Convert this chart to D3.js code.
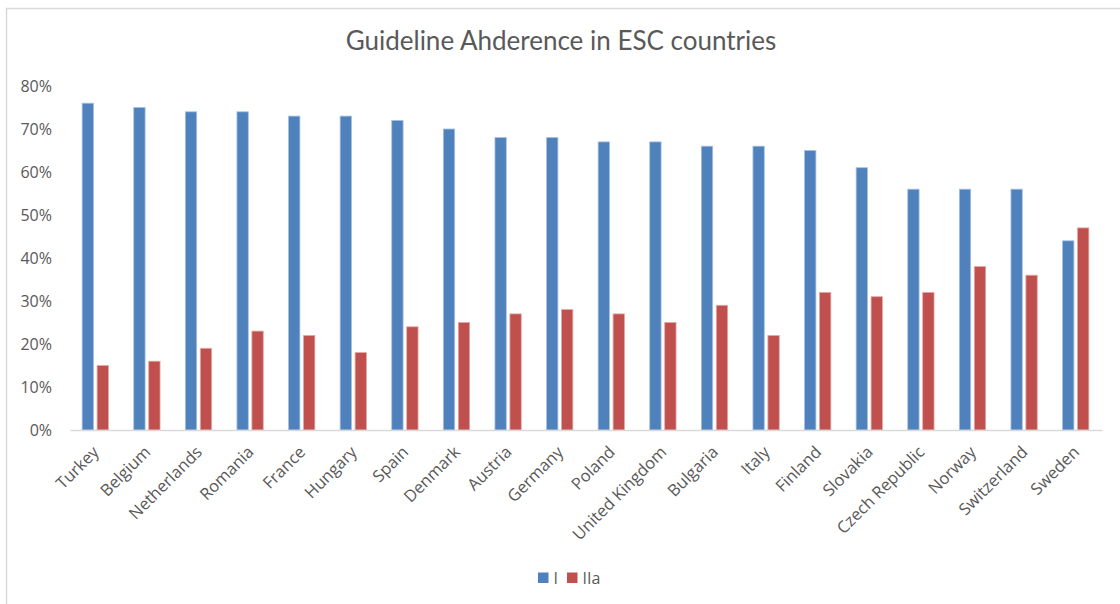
<!DOCTYPE html>
<html>
<head>
<meta charset="utf-8">
<script src="https://cdn.jsdelivr.net/npm/d3@7"></script>
<style>
  html, body { margin: 0; padding: 0; background: #fff; }
  svg { display: block; font-family: "Open Sans", sans-serif; }
</style>
</head>
<body>
<svg id="chart" width="1120" height="604"></svg>
<script>
// Share of patients treated per guideline class, by ESC member country
const countries = ["Turkey", "Belgium", "Netherlands", "Romania", "France", "Hungary", "Spain",
  "Denmark", "Austria", "Germany", "Poland", "United Kingdom", "Bulgaria", "Italy", "Finland",
  "Slovakia", "Czech Republic", "Norway", "Switzerland", "Sweden"];
const classI   = [0.76, 0.75, 0.74, 0.74, 0.73, 0.73, 0.72, 0.70, 0.68, 0.68, 0.67, 0.67, 0.66, 0.66, 0.65, 0.61, 0.56, 0.56, 0.56, 0.44];
const classIIa = [0.15, 0.16, 0.19, 0.23, 0.22, 0.18, 0.24, 0.25, 0.27, 0.28, 0.27, 0.25, 0.29, 0.22, 0.32, 0.31, 0.32, 0.38, 0.36, 0.47];
const seriesNames = ["I", "IIa"];
const seriesColors = ["#4f81bd", "#c0504d"];
const yTicks = [0, 0.1, 0.2, 0.3, 0.4, 0.5, 0.6, 0.7, 0.8];
const title = "Guideline Ahderence in ESC countries";

const svg = d3.select("#chart");
const textColor = "#595959";
const labelFont = "'Open Sans', sans-serif";

// outer chart frame
svg.append("rect")
  .attr("x", 6.5).attr("y", 8.5)
  .attr("width", 1130).attr("height", 620)
  .attr("fill", "#fff").attr("stroke", "#d9d9d9").attr("stroke-width", 1.5);

const plot = { left: 70, right: 1102, top: 86, bottom: 430 };

const x = d3.scaleBand().domain(countries).range([plot.left, plot.right]);
const y = d3.scaleLinear().domain([0, 0.8]).range([plot.bottom, plot.top]);

const barW = x.bandwidth() * 0.22;
const barGap = x.bandwidth() * 0.07;

// title
svg.append("text")
  .attr("x", 561).attr("y", 50)
  .attr("text-anchor", "middle")
  .attr("font-family", "Lato, sans-serif")
  .attr("font-size", 26)
  .attr("fill", textColor)
  .text(title);

// y axis labels
const yAxis = d3.axisLeft(y).tickValues(yTicks).tickFormat(d3.format(".0%")).tickSize(0).tickPadding(0);
const yG = svg.append("g").attr("transform", `translate(52,0)`).call(yAxis);
yG.select(".domain").remove();
yG.selectAll("text").attr("font-size", 16).attr("fill", textColor)
  .attr("font-family", labelFont);

// bars
const series = [classI, classIIa];
series.forEach((vals, si) => {
  svg.append("g").selectAll("rect")
    .data(countries)
    .join("rect")
    .attr("x", (c) => {
      const mid = x(c) + x.bandwidth() / 2 - 0.5;
      return si === 0 ? mid - barGap / 2 - barW : mid + barGap / 2;
    })
    .attr("y", (c, i) => y(vals[i]))
    .attr("width", barW)
    .attr("height", (c, i) => y(0) - y(vals[i]))
    .attr("fill", seriesColors[si])
    .attr("stroke", si === 0 ? "#a7c0df" : "#e2a9a7")
    .attr("stroke-width", 0.8);
});

// category axis
const xAxis = d3.axisBottom(x).tickSize(0).tickPadding(0);
const xG = svg.append("g").attr("transform", `translate(0,${plot.bottom})`).call(xAxis);
xG.select(".domain").attr("stroke", "#d9d9d9").attr("stroke-width", 1.5);
xG.selectAll("text")
  .attr("font-size", 16.5)
  .attr("fill", textColor)
  .attr("font-family", labelFont)
  .attr("text-anchor", "end")
  .attr("dy", null)
  .attr("y", 0)
  .attr("x", 0)
  .attr("dominant-baseline", "middle")
  .attr("transform", `translate(${x.bandwidth() / 2 + 1},20) rotate(-45)`);
xG.selectAll(".tick").attr("transform", (d) => `translate(${x(d)},0)`);

// legend
const legend = svg.append("g");
const legendItems = [{ name: seriesNames[0], color: seriesColors[0], x: 538 }, { name: seriesNames[1], color: seriesColors[1], x: 567 }];
legendItems.forEach((it) => {
  legend.append("rect").attr("x", it.x).attr("y", 572.5).attr("width", 10.5).attr("height", 10.5).attr("fill", it.color);
  legend.append("text").attr("x", it.x + 15.5).attr("y", 584).attr("font-size", 16)
    .attr("font-family", labelFont).attr("fill", textColor).text(it.name);
});
</script>
</body>
</html>
